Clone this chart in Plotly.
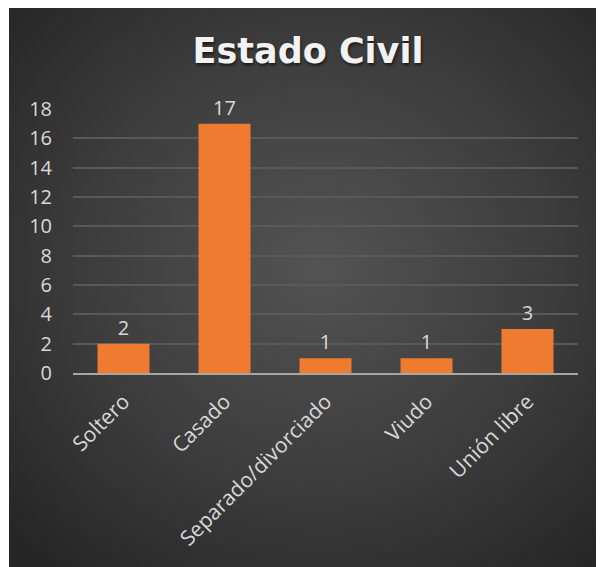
import base64
import plotly.graph_objects as go

categories = ["Soltero", "Casado", "Separado/divorciado", "Viudo", "Unión libre"]
values = [2, 17, 1, 1, 3]
y_ticks = [0, 2, 4, 6, 8, 10, 12, 14, 16, 18]
title_text = "Estado Civil"

# figure is drawn at an 8px page offset
W, H = 596, 559
L, R, T, B = 65, 26, 101, 194
pw, ph = W - L - R, H - T - B

svg = (
    '<svg xmlns="http://www.w3.org/2000/svg" width="595" height="563" viewBox="0 0 595 563" preserveAspectRatio="none">'
    '<defs><radialGradient id="g" cx="52%" cy="46%" r="70%">'
    '<stop offset="0" stop-color="#535353"/><stop offset="0.55" stop-color="#3d3d3d"/>'
    '<stop offset="1" stop-color="#262626"/></radialGradient></defs>'
    '<rect width="595" height="563" fill="url(#g)"/></svg>'
)
src = "data:image/svg+xml;base64," + base64.b64encode(svg.encode()).decode()

def px_x(p):
    return (p - L) / pw

def px_y(p):
    return (H - B - p) / ph

fig = go.Figure()
fig.add_trace(go.Bar(
    x=categories, y=values,
    marker=dict(color="#EE7B30", line=dict(width=0)),
    width=0.515,
    text=[str(v) for v in values], textposition="outside",
    textfont=dict(family="Open Sans", size=20, color="#D9D9D9"),
    cliponaxis=False,
))

fig.update_layout(
    width=W, height=H,
    margin=dict(l=L, r=R, t=T, b=B, autoexpand=False),
    paper_bgcolor="white",
    plot_bgcolor="rgba(0,0,0,0)",
    showlegend=False,
    title=dict(
        text="<b>" + title_text + "</b>",
        font=dict(family="DejaVu Sans", size=35, color="#F2F2F2",
                  shadow="1px 2px 3px rgba(0,0,0,0.6)"),
        x=300 / W, xanchor="center", xref="container",
        y=1 - 43 / H, yanchor="middle", yref="container",
    ),
    images=[dict(
        source=src, xref="paper", yref="paper",
        x=px_x(1), y=px_y(-4), sizex=(W - 1) / pw, sizey=(H + 4) / ph,
        xanchor="left", yanchor="top", sizing="stretch", layer="below",
    )],
    bargap=0.485,
)
fig.update_yaxes(
    range=[0, 18], tickvals=y_ticks, ticktext=[str(v) for v in y_ticks],
    showgrid=True, gridcolor="#595959", gridwidth=1.5,
    zeroline=False, showline=False, ticks="",
    tickfont=dict(family="Open Sans", size=20, color="#D9D9D9"),
    ticklabelstandoff=20,
)
fig.update_xaxes(
    showline=True, linecolor="#A6A6A6", linewidth=2,
    showgrid=False, ticks="", tickangle=-45,
    tickfont=dict(family="Open Sans", size=21, color="#D9D9D9"),
    ticklabelstandoff=6,
    automargin=False,
)
fig.write_html("out.html")
